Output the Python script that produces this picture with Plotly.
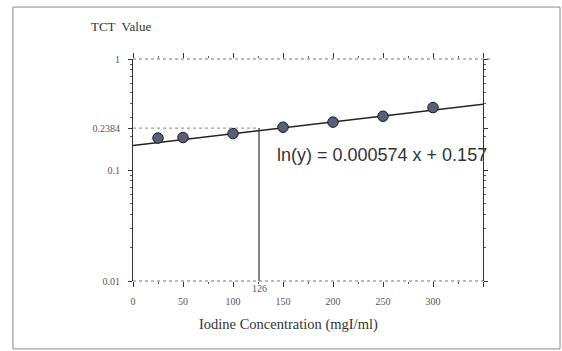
import plotly.graph_objects as go

# Data
conc = [25, 50, 100, 150, 200, 250, 300]
tct = [0.194, 0.196, 0.213, 0.243, 0.270, 0.305, 0.365]
fit_x = [0, 350]
fit_y = [0.166, 0.391]
ref_x = 126
ref_y = 0.2384
x_ticks = [0, 50, 100, 150, 200, 250, 300, 350]
x_ticktext = ["0", "50", "100", "150", "200", "250", "300", ""]
y_ticks = [0.01, 0.1, 0.2384, 1]
y_ticktext = ["0.01", "0.1", "0.2384", "1"]
y_minor = [0.02, 0.03, 0.04, 0.05, 0.06, 0.07, 0.08, 0.09,
           0.2, 0.3, 0.4, 0.5, 0.6, 0.7, 0.8, 0.9]

SERIF = "Liberation Serif"
GRAY = "#555555"

fig = go.Figure()
fig.add_trace(go.Scatter(x=fit_x, y=fit_y, mode="lines",
                         line=dict(color="#222222", width=1.6), hoverinfo="skip"))
fig.add_trace(go.Scatter(x=conc, y=tct, mode="markers",
                         marker=dict(size=10.5, color="#56607a",
                                     line=dict(color="#1a1a1a", width=1))))

# reference lines
fig.add_shape(type="line", x0=0, x1=ref_x, y0=ref_y, y1=ref_y, xref="x", yref="y",
              line=dict(color="#888888", width=1, dash="dot"))
fig.add_shape(type="line", x0=ref_x, x1=ref_x, y0=0.01, y1=ref_y, xref="x", yref="y",
              line=dict(color="#333333", width=1.2))
# dotted top & bottom frame lines
fig.add_shape(type="line", x0=0, x1=1.02, y0=1, y1=1, xref="paper", yref="paper",
              line=dict(color="#777777", width=1, dash="dot"))
fig.add_shape(type="line", x0=0, x1=1.0, y0=0, y1=0, xref="paper", yref="paper",
              line=dict(color="#777777", width=1, dash="dot"))
# outer border
fig.add_shape(type="rect", x0=-0.343, x1=1.22, y0=-0.306, y1=1.234,
              xref="paper", yref="paper", line=dict(color="#8a8a8a", width=1))

fig.add_annotation(x=142, y=-0.868, xref="x", yref="y", text="ln(y) = 0.000574 x + 0.157",
                   showarrow=False, xanchor="left", yanchor="middle",
                   font=dict(family="Liberation Sans", size=18, color="#333333"))
fig.add_annotation(x=-0.127, y=1.145, xref="paper", yref="paper", text="TCT  Value",
                   showarrow=False, xanchor="left", yanchor="middle",
                   font=dict(family=SERIF, size=13, color="#333333"))
fig.add_annotation(x=0.443, y=-0.198, xref="paper", yref="paper",
                   text="Iodine Concentration (mgI/ml)",
                   showarrow=False, xanchor="center", yanchor="middle",
                   font=dict(family=SERIF, size=14.5, color="#333333"))
fig.add_annotation(x=ref_x, y=-0.036, xref="x", yref="paper", text=str(ref_x),
                   showarrow=False, xanchor="center", yanchor="middle",
                   font=dict(family=SERIF, size=10, color=GRAY))

fig.update_xaxes(range=[0, 350], tickvals=x_ticks, ticktext=x_ticktext,
                 showline=False, mirror="ticks", ticks="outside", ticklen=5,
                 tickcolor="#333333", tickwidth=1, showgrid=False, zeroline=False,
                 ticklabelstandoff=6,
                 tickfont=dict(family=SERIF, size=10, color=GRAY),
                 minor=dict(dtick=25, ticks="outside", ticklen=2, tickcolor="#555555"))
fig.update_yaxes(type="log", range=[-2, 0], tickvals=y_ticks, ticktext=y_ticktext,
                 showline=True, linecolor="#333333", linewidth=1, mirror="ticks",
                 ticks="outside", ticklen=4, tickcolor="#333333", showgrid=False,
                 zeroline=False, ticklabelstandoff=6,
                 tickfont=dict(family=SERIF, size=10, color=GRAY),
                 minor=dict(tickvals=y_minor, ticks="outside", ticklen=2,
                            tickcolor="#555555", showgrid=False))

fig.update_layout(width=562, height=351, showlegend=False,
                  margin=dict(l=133, r=79, t=59, b=70),
                  paper_bgcolor="white", plot_bgcolor="white")
fig.write_html("out.html")
